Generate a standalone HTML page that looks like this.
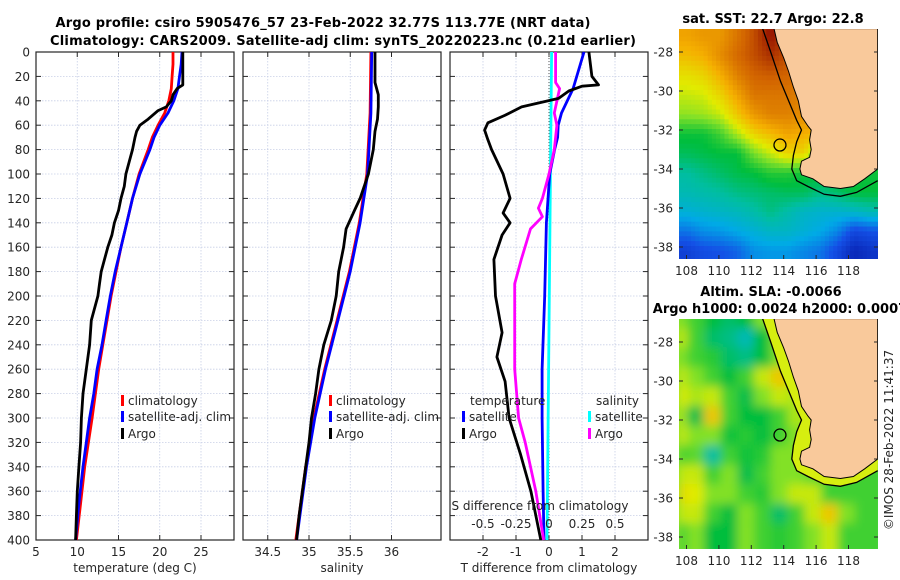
<!DOCTYPE html>
<html><head><meta charset="utf-8">
<style>
html,body{margin:0;padding:0;background:#fff;}
svg{display:block;font-family:"DejaVu Sans","Liberation Sans",sans-serif;}
.t{font-size:12px;fill:#262626;}
.b{font-weight:bold;font-size:13px;fill:#000;}
</style></head>
<body>
<svg id="s" width="900" height="580" viewBox="0 0 900 580" xmlns="http://www.w3.org/2000/svg">
<defs>
<clipPath id="c1"><rect x="679" y="29" width="199" height="230"/></clipPath>
<clipPath id="c2"><rect x="679" y="319" width="199" height="230"/></clipPath>
<filter id="bl" x="-5%" y="-5%" width="110%" height="110%"><feGaussianBlur stdDeviation="5"/></filter>
</defs>
<text class="b" x="323" y="27" text-anchor="middle" textLength="535">Argo profile: csiro 5905476_57 23-Feb-2022 32.77S 113.77E (NRT data)</text>
<text class="b" x="343" y="45" text-anchor="middle" textLength="586">Climatology: CARS2009. Satellite-adj clim: synTS_20220223.nc (0.21d earlier)</text>
<g id="g"></g>
</svg>
<script>
// ---- data ----
const tDepth = [0,10,20,30,40,50,60,70,80,100,120,140,160,180,200,220,240,260,280,300,340,370,400];
const tClim  = [21.6,21.6,21.5,21.4,21.1,20.6,19.8,19.1,18.6,17.5,16.7,16.0,15.3,14.7,14.1,13.6,13.1,12.6,12.2,11.8,10.9,10.4,9.9];
const tSat   = [22.7,22.6,22.4,22.2,21.7,21.0,20.0,19.3,18.8,17.6,16.7,16.0,15.3,14.6,14.0,13.5,13.0,12.4,12.0,11.5,10.7,10.2,9.8];
const argoDepth = [0,10,20,27,30,35,40,45,48,55,60,65,70,80,90,100,110,120,130,140,150,160,170,180,190,200,220,240,260,280,300,320,340,360,380,400];
const argoT = [22.8,22.8,22.8,22.8,22.1,21.6,21.4,20.8,19.8,18.6,17.6,17.2,17.0,16.7,16.3,15.9,15.7,15.3,15.0,14.5,14.2,13.7,13.3,12.9,12.7,12.5,11.7,11.5,11.1,10.7,10.5,10.4,10.2,10.0,9.9,9.8];
const sDepth = [0,50,100,140,180,220,260,300,340,400];
const sClim = [35.75,35.74,35.70,35.61,35.49,35.34,35.19,35.06,34.96,34.84];
const sSat  = [35.76,35.75,35.71,35.62,35.50,35.35,35.20,35.07,34.97,34.85];
const argoSDepth = [0,25,35,45,55,65,80,100,120,130,145,160,180,200,220,240,260,280,300,320,340,360,380,400];
const argoS = [35.80,35.80,35.84,35.84,35.83,35.80,35.78,35.72,35.62,35.55,35.45,35.42,35.36,35.33,35.27,35.18,35.12,35.08,35.03,35.00,34.96,34.92,34.88,34.85];
const dTDepth = [0,30,50,60,70,80,100,140,200,260,300,360,400];
const dTSat = [1.06,0.73,0.38,0.28,0.26,0.17,0.02,-0.08,-0.13,-0.21,-0.21,-0.18,-0.15];
const dArgoDepth = [0,20,27,28,32,38,45,52,58,64,72,80,100,120,132,140,150,170,200,230,250,270,300,330,360,400];
const dArgoT = [1.21,1.3,1.5,1.0,0.6,0.29,-0.83,-1.34,-1.85,-1.95,-1.85,-1.74,-1.39,-1.18,-1.39,-1.18,-1.42,-1.67,-1.62,-1.42,-1.58,-1.33,-1.21,-0.86,-0.55,-0.25];
const dSDepth = [0,25,30,50,60,80,100,120,128,135,145,170,190,230,260,300,320,360,400];
const dArgoS = [0.05,0.05,0.08,0.04,0.06,0.04,0.0,-0.05,-0.08,-0.05,-0.14,-0.21,-0.26,-0.26,-0.26,-0.23,-0.18,-0.10,-0.04];
const dSatSDepth = [0,400];
const dSatS = [0.02,-0.015];
const depthTicks = [0,20,40,60,80,100,120,140,160,180,200,220,240,260,280,300,320,340,360,380,400];
const tTicks = [5,10,15,20,25];
const sTicks = [34.5,35,35.5,36];
const dTTicks = [-2,-1,0,1,2];
const dSTicks = [-0.5,-0.25,0,0.25,0.5];
const mapLonTicks = [108,110,112,114,116,118];
const mapLatTicks = [-28,-30,-32,-34,-36,-38];
const sstGrid = [
[.74,.76,.76,.82,.88,.96,.90,.86,.85,.85,.85,.85],
[.70,.72,.78,.84,.88,.92,.88,.85,.85,.85,.85,.85],
[.64,.66,.72,.80,.85,.86,.85,.82,.82,.82,.82,.82],
[.60,.61,.66,.74,.82,.82,.82,.80,.80,.80,.80,.80],
[.56,.57,.60,.68,.76,.80,.80,.78,.78,.78,.78,.78],
[.46,.46,.50,.58,.66,.70,.74,.72,.70,.70,.70,.70],
[.43,.44,.45,.45,.54,.60,.66,.66,.50,.50,.50,.50],
[.38,.40,.42,.44,.45,.48,.48,.46,.46,.46,.46,.46],
[.36,.37,.38,.40,.41,.42,.43,.43,.40,.42,.45,.45],
[.32,.33,.34,.35,.37,.40,.37,.34,.33,.33,.34,.36],
[.24,.27,.28,.30,.32,.34,.34,.32,.30,.26,.18,.20],
[.16,.19,.20,.22,.27,.28,.28,.26,.24,.18,.10,.13]];
const slaGrid = [
[.55,.50,.45,.42,.45,.55,.58,.58,.58,.58,.58,.58],
[.60,.50,.42,.40,.36,.45,.55,.58,.58,.58,.58,.58],
[.55,.50,.48,.42,.40,.45,.55,.58,.58,.58,.58,.58],
[.60,.55,.50,.45,.50,.60,.68,.58,.58,.58,.58,.58],
[.62,.58,.60,.50,.44,.55,.60,.58,.58,.58,.58,.58],
[.58,.44,.68,.50,.45,.45,.50,.58,.58,.58,.58,.58],
[.60,.55,.55,.46,.48,.45,.50,.55,.58,.58,.58,.58],
[.50,.52,.38,.50,.46,.48,.55,.55,.55,.55,.55,.55],
[.60,.60,.50,.55,.44,.50,.55,.55,.52,.50,.50,.50],
[.65,.62,.55,.55,.50,.48,.55,.60,.60,.50,.50,.50],
[.60,.60,.50,.45,.55,.50,.42,.50,.60,.68,.55,.50],
[.50,.55,.45,.45,.55,.50,.48,.50,.55,.60,.50,.50]];
const coastLon = [113.4,113.6,114.0,114.3,114.6,114.9,115.1,115.5,115.7,115.6,115.7,115.6,115.1,115.0,115.1,115.8,116.5,117.5,118.3,119.0,119.8,119.8];
const coastLat = [-26.8,-27.5,-28.3,-29.0,-29.8,-30.5,-31.3,-31.8,-32.0,-32.5,-33.0,-33.4,-33.6,-34.0,-34.3,-34.5,-34.9,-35.0,-34.9,-34.5,-34.0,-26.8];
const isoLon = [112.7,113.2,113.8,114.4,114.8,115.1,114.8,114.6,114.5,114.8,115.5,116.5,117.5,118.5,119.8];
const isoLat = [-26.8,-28,-29.5,-30.7,-31.5,-32.0,-32.6,-33.3,-34.0,-34.6,-34.9,-35.3,-35.4,-35.2,-34.6];
const floatLon = 113.77, floatLat = -32.77;

const NS="http://www.w3.org/2000/svg";
const G=document.getElementById('g');
function mk(tag,at,parent,txt){const e=document.createElementNS(NS,tag);for(const k in at)e.setAttribute(k,at[k]);if(txt!==undefined)e.textContent=txt;(parent||G).appendChild(e);return e;}
const Y0=52,Y1=540;
const yD=d=>Y0+(d/400)*(Y1-Y0);
function lin(d0,d1,p0,p1){return v=>p0+(v-d0)/(d1-d0)*(p1-p0);}
const P=[{x0:36,x1:234},{x0:243,x1:441},{x0:450,x1:648}];
const xT=lin(5,29,36,234), xS=lin(34.2,36.6,243,441), xDT=lin(-3,3,450,648), xDS=lin(-0.75,0.75,450,648);

function frame(p,xs,ticks,name){
  const g=mk('g',{});
  
  
  depthTicks.forEach(d=>{const y=yD(d);if(d>0&&d<400)mk('line',{x1:p.x0,x2:p.x1,y1:y,y2:y,stroke:'#c8cfe6','stroke-width':0.8,'stroke-dasharray':'1.5,1.5'},g);
    mk('line',{x1:p.x0,x2:p.x0+5,y1:y,y2:y,stroke:'#262626'},g);mk('line',{x1:p.x1-5,x2:p.x1,y1:y,y2:y,stroke:'#262626'},g);});
  ticks.forEach(v=>{const x=xs(v);if(x>p.x0+1&&x<p.x1-1){mk('line',{x1:x,x2:x,y1:Y0,y2:Y1,stroke:'#c8cfe6','stroke-width':0.8,'stroke-dasharray':'1.5,1.5'},g);}
    mk('line',{x1:x,x2:x,y1:Y1,y2:Y1-5,stroke:'#262626'},g);mk('line',{x1:x,x2:x,y1:Y0,y2:Y0+5,stroke:'#262626'},g);});
  mk('rect',{x:p.x0,y:Y0,width:p.x1-p.x0,height:Y1-Y0,fill:'none',stroke:'#262626','stroke-width':1.2},g);
  return g;
}
function line(xs,depths,vals,color,name){
  const pts=depths.map((d,i)=>xs(vals[i]).toFixed(1)+','+yD(d).toFixed(1)).join(' ');
  const e=mk('polyline',{points:pts,fill:'none',stroke:color,'stroke-width':2.8,'stroke-linejoin':'round'});
  
  
}
// panel 1
frame(P[0],xT,tTicks,'temperature-panel');
depthTicks.forEach(d=>{const e=mk('text',{class:'t',x:30,y:yD(d)+4.5,'text-anchor':'end'},G,String(d));
  
  });
tTicks.forEach(v=>{const e=mk('text',{class:'t',x:xT(v),y:556,'text-anchor':'middle'},G,String(v));
  
  });
line(xT,tDepth,tClim,'#ff0000','temperature-climatology-line');
line(xT,tDepth,tSat,'#0000ff','temperature-satellite-line');
line(xT,argoDepth,argoT,'#000000','temperature-argo-line');
// panel 2
frame(P[1],xS,sTicks,'salinity-panel');
sTicks.forEach(v=>{const e=mk('text',{class:'t',x:xS(v),y:556,'text-anchor':'middle'},G,String(v));
  
  });
line(xS,sDepth,sClim,'#ff0000','salinity-climatology-line');
line(xS,sDepth,sSat,'#0000ff','salinity-satellite-line');
line(xS,argoSDepth,argoS,'#000000','salinity-argo-line');
// panel 3
frame(P[2],xDT,dTTicks,'difference-panel');
mk('line',{x1:xDT(0),x2:xDT(0),y1:Y0,y2:Y1,stroke:'#555','stroke-width':1,'stroke-dasharray':'1,2'});
dTTicks.forEach(v=>{const e=mk('text',{class:'t',x:xDT(v),y:556,'text-anchor':'middle'},G,String(v));
  
  });
line(xDS,dSatSDepth,dSatS,'#00ffff','salinity-satellite-diff-line');
line(xDT,dTDepth,dTSat,'#0000ff','temperature-satellite-diff-line');
line(xDS,dSDepth,dArgoS,'#ff00ff','salinity-argo-diff-line');
line(xDT,dArgoDepth,dArgoT,'#000000','temperature-argo-diff-line');
dSTicks.forEach(v=>{const e=mk('text',{class:'t',x:xDS(v),y:528,'text-anchor':'middle'},G,String(v));
  
  });
{const e=mk('text',{class:'t',x:540,y:510,'text-anchor':'middle'},G,'S difference from climatology');

}
// axis titles
[['temperature (deg C)',135,'temperature-axis-title'],['salinity',342,'salinity-axis-title'],['T difference from climatology',549,'t-difference-axis-title']].forEach(a=>{
  const e=mk('text',{class:'t',x:a[1],y:572,'text-anchor':'middle'},G,a[0]);
  
  });
// legends
function leg(x,y,color,label,name){
  const g=mk('g',{});
  
  
  mk('rect',{x:x,y:y-10,width:3,height:11,fill:color},g);
  mk('text',{class:'t',x:x+7,y:y},g,label);
}
leg(121,405,'#ff0000','climatology','legend-climatology');
leg(121,421,'#0000ff','satellite-adj. clim','legend-satellite-adj');
leg(121,438,'#000000','Argo','legend-argo');
leg(329,405,'#ff0000','climatology','legend-climatology-salinity');
leg(329,421,'#0000ff','satellite-adj. clim','legend-satellite-adj-salinity');
leg(329,438,'#000000','Argo','legend-argo-salinity');
{const e=mk('text',{class:'t',x:470,y:405},G,'temperature');

}
{const e=mk('text',{class:'t',x:596,y:405},G,'salinity');

}
leg(462,421,'#0000ff','satellite','legend-temperature-satellite');
leg(462,438,'#000000','Argo','legend-temperature-argo');
leg(588,421,'#00ffff','satellite','legend-salinity-satellite');
leg(588,438,'#ff00ff','Argo','legend-salinity-argo');

// ---- maps ----
const stops=[[0,[0,0,140]],[.2,[20,80,230]],[.3,[0,170,230]],[.38,[0,190,160]],[.45,[0,190,60]],[.55,[130,225,40]],[.62,[225,235,0]],[.72,[245,175,0]],[.85,[210,100,0]],[.96,[150,20,0]],[1,[130,0,0]]];
function cmap(v){for(let i=1;i<stops.length;i++){if(v<=stops[i][0]){const a=stops[i-1],b=stops[i],t=(v-a[0])/(b[0]-a[0]);const c=a[1].map((q,k)=>Math.round(q+(b[1][k]-q)*t));return 'rgb('+c.join(',')+')';}}return 'rgb(130,0,0)';}
function samp(grid,fr,fc){
  const nr=grid.length,nc=grid[0].length;
  fr=Math.max(0,Math.min(nr-1,fr));fc=Math.max(0,Math.min(nc-1,fc));
  const r0=Math.floor(fr),c0=Math.floor(fc),r1=Math.min(nr-1,r0+1),c1=Math.min(nc-1,c0+1),tr=fr-r0,tc=fc-c0;
  return (grid[r0][c0]*(1-tc)+grid[r0][c1]*tc)*(1-tr)+(grid[r1][c0]*(1-tc)+grid[r1][c1]*tc)*tr;
}
const lonX=lin(108,118,686.5,848.5);
function drawMap(top,grid,clip,blur,name,shelf){
  const latY=lin(-28,-38,top+23,top+218);
  const g=mk('g',{'clip-path':'url(#'+clip+')'});
  
  
  const cg=mk('g',blur?{filter:'url(#bl)'}:{},g);
  const nr=grid.length,nc=grid[0].length;
  const sub=blur?1:4;
  const lat0=-26.7,dlat=(38.7-26.7)/(nr*sub),lon0=107.5,dlon=(119.9-107.5)/(nc*sub);
  for(let r=0;r<nr*sub;r++)for(let c=0;c<nc*sub;c++){
    const v=samp(grid,(r+0.5)/sub-0.5,(c+0.5)/sub-0.5);
    const x=lonX(lon0+c*dlon),y=latY(lat0-r*dlat);
    mk('rect',{x:x-(blur?8:0),y:y-(blur?8:0),width:lonX(lon0+(c+1)*dlon)-x+(blur?16:0.5),height:latY(lat0-(r+1)*dlat)-y+(blur?16:0.5),fill:cmap(v)},cg);}
  if(blur){mk('rect',{x:640,y:top-40,width:39,height:300,fill:cmap(.55)},cg);}
  const cp=coastLon.map((l,i)=>lonX(l).toFixed(1)+','+latY(coastLat[i]).toFixed(1)).join(' ');
  const ip=isoLon.map((l,i)=>lonX(l).toFixed(1)+','+latY(isoLat[i]).toFixed(1)).join(' ');
  if(shelf){mk('polygon',{points:ip+' '+lonX(119.9)+','+latY(-26.7)+' '+lonX(112.5)+','+latY(-26.7),fill:shelf},g);}
  const land=mk('polygon',{points:cp,fill:'#f9c99b',stroke:'#000','stroke-width':1},g);
  
  
  mk('polyline',{points:ip,fill:'none',stroke:'#000','stroke-width':1.3},g);
  const c=mk('circle',{cx:lonX(floatLon),cy:latY(floatLat),r:6,fill:'none',stroke:'#000','stroke-width':1.3},g);
  
  
  mapLatTicks.forEach(v=>{const y=latY(v);
    mk('line',{x1:679,x2:683,y1:y,y2:y,stroke:'#262626'});mk('line',{x1:874,x2:878,y1:y,y2:y,stroke:'#262626'});
    const e=mk('text',{class:'t',x:673,y:y+4.5,'text-anchor':'end'},G,String(v));
    
    });
  mapLonTicks.forEach(v=>{const x=lonX(v);
    mk('line',{x1:x,x2:x,y1:top+230,y2:top+226,stroke:'#262626'});
    const e=mk('text',{class:'t',x:x,y:top+246,'text-anchor':'middle'},G,String(v));
    
    });
}
drawMap(29,sstGrid,'c1',false,'sst-map',null);
drawMap(319,slaGrid,'c2',true,'sla-map','#d6ee10');
[['sat. SST: 22.7 Argo: 22.8',773,23,'sst-map-title'],['Altim. SLA: -0.0066',771,296,'sla-map-title'],['Argo h1000: 0.0024 h2000: 0.0007',780,313,'argo-height-title']].forEach(a=>{
  const e=mk('text',{class:'b',x:a[1],y:a[2],'text-anchor':'middle'},G,a[0]);
  
  });
{const e=mk('text',{class:'t',x:0,y:0,'text-anchor':'middle',transform:'translate(893,440) rotate(-90)'},G,'©IMOS 28-Feb-2022 11:41:37');

}
</script>
</body></html>
